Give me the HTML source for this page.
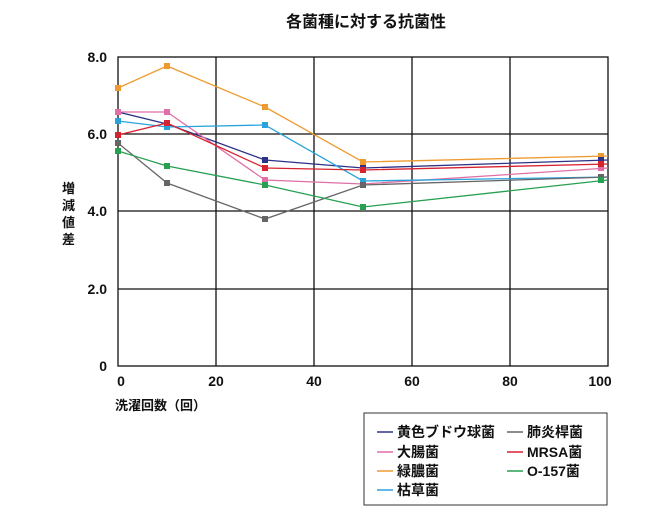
<!DOCTYPE html>
<html><head><meta charset="utf-8"><style>
body{margin:0;background:#fff}
svg text{font-family:"Liberation Sans","Noto Sans CJK JP",sans-serif;font-weight:bold;fill:#111}
</style></head><body>
<svg width="650" height="520" xmlns="http://www.w3.org/2000/svg">
<text x="366" y="27" font-size="16" text-anchor="middle">各菌種に対する抗菌性</text>
<g stroke="#111" stroke-width="1.3" fill="none">
<rect x="118" y="57" width="490" height="309"/>
<line x1="216" y1="57" x2="216" y2="366"/><line x1="314" y1="57" x2="314" y2="366"/>
<line x1="412" y1="57" x2="412" y2="366"/><line x1="510" y1="57" x2="510" y2="366"/>
<line x1="118" y1="134" x2="608" y2="134"/><line x1="118" y1="211" x2="608" y2="211"/><line x1="118" y1="289" x2="608" y2="289"/>
</g>
<g font-size="14" text-anchor="end">
<text x="107" y="62">8.0</text><text x="107" y="139">6.0</text><text x="107" y="216">4.0</text><text x="107" y="294">2.0</text><text x="107" y="371">0</text>
</g>
<g font-size="14" text-anchor="middle">
<text x="121" y="386">0</text><text x="216" y="386">20</text><text x="314" y="386">40</text><text x="412" y="386">60</text><text x="510" y="386">80</text><text x="600" y="386">100</text>
</g>
<g font-size="13"><text x="62" y="193">増</text><text x="62" y="210">減</text><text x="62" y="227">値</text><text x="62" y="244">差</text></g>
<text x="115" y="410" font-size="13">洗濯回数（回）</text>
<g fill="none" stroke-width="1.3">
<polyline stroke="#ef9a2f" points="118,88 167,66 265,107 363,162 608,156"/>
<polyline stroke="#2c3285" points="118,112 167,124 265,160 363,168 608,160"/>
<polyline stroke="#e06fa6" points="118,112 167,112 265,180 363,184 608,168"/>
<polyline stroke="#2aa3dc" points="118,121 167,127 265,125 363,181 608,177"/>
<polyline stroke="#d7222f" points="118,135 167,123 265,168 363,170 608,164"/>
<polyline stroke="#666" points="118,143 167,183 265,219 363,185 608,177"/>
<polyline stroke="#27a052" points="118,151 167,166 265,185 363,207 608,180"/>
</g>
<g>
<g fill="#ef9a2f"><rect x="115" y="85" width="6" height="6"/><rect x="164" y="63" width="6" height="6"/><rect x="262" y="104" width="6" height="6"/><rect x="360" y="159" width="6" height="6"/><rect x="598" y="153" width="6" height="6"/></g>
<g fill="#2c3285"><rect x="115" y="109" width="6" height="6"/><rect x="164" y="121" width="6" height="6"/><rect x="262" y="157" width="6" height="6"/><rect x="360" y="165" width="6" height="6"/><rect x="598" y="157" width="6" height="6"/></g>
<g fill="#e06fa6"><rect x="115" y="109" width="6" height="6"/><rect x="164" y="109" width="6" height="6"/><rect x="262" y="177" width="6" height="6"/><rect x="360" y="181" width="6" height="6"/><rect x="598" y="165" width="6" height="6"/></g>
<g fill="#2aa3dc"><rect x="115" y="118" width="6" height="6"/><rect x="164" y="124" width="6" height="6"/><rect x="262" y="122" width="6" height="6"/><rect x="360" y="178" width="6" height="6"/><rect x="598" y="174" width="6" height="6"/></g>
<g fill="#d7222f"><rect x="115" y="132" width="6" height="6"/><rect x="164" y="120" width="6" height="6"/><rect x="262" y="165" width="6" height="6"/><rect x="360" y="167" width="6" height="6"/><rect x="598" y="161" width="6" height="6"/></g>
<g fill="#666"><rect x="115" y="140" width="6" height="6"/><rect x="164" y="180" width="6" height="6"/><rect x="262" y="216" width="6" height="6"/><rect x="360" y="182" width="6" height="6"/><rect x="598" y="174" width="6" height="6"/></g>
<g fill="#27a052"><rect x="115" y="148" width="6" height="6"/><rect x="164" y="163" width="6" height="6"/><rect x="262" y="182" width="6" height="6"/><rect x="360" y="204" width="6" height="6"/><rect x="598" y="177" width="6" height="6"/></g>
</g>
<rect x="364" y="413" width="243" height="92" fill="none" stroke="#333" stroke-width="1"/>
<g stroke-width="1.5">
<line x1="377" y1="432" x2="393" y2="432" stroke="#2c3285"/><line x1="377" y1="452" x2="393" y2="452" stroke="#e06fa6"/>
<line x1="377" y1="471" x2="393" y2="471" stroke="#ef9a2f"/><line x1="377" y1="490" x2="393" y2="490" stroke="#2aa3dc"/>
<line x1="507" y1="432" x2="523" y2="432" stroke="#666"/><line x1="507" y1="452" x2="523" y2="452" stroke="#d7222f"/>
<line x1="507" y1="471" x2="523" y2="471" stroke="#27a052"/>
</g>
<g font-size="14">
<text x="397" y="437">黄色ブドウ球菌</text><text x="397" y="457">大腸菌</text><text x="397" y="476">緑膿菌</text><text x="397" y="495">枯草菌</text>
<text x="527" y="437">肺炎桿菌</text><text x="527" y="457">MRSA菌</text><text x="527" y="476">O-157菌</text>
</g>
</svg>
</body></html>
